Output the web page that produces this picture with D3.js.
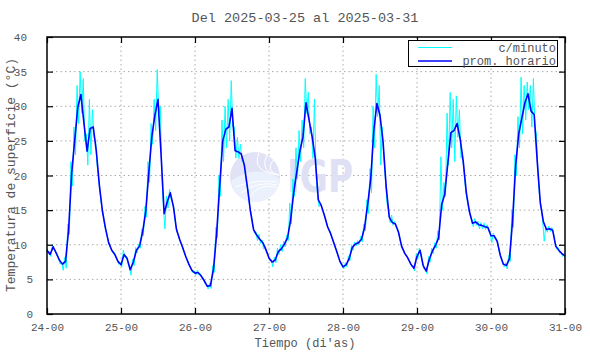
<!DOCTYPE html>
<html>
<head>
<meta charset="utf-8">
<script src="https://cdnjs.cloudflare.com/ajax/libs/d3/7.8.5/d3.min.js"></script>
<style>
  body { margin: 0; background: #fff; }
  svg { display: block; }
  text { font-family: "Liberation Mono", "DejaVu Sans Mono", monospace; fill: #555; }
</style>
</head>
<body>
<svg id="drawing_region"></svg>
<script>
// x tick labels, one per day (day-hour)
var xTickLabels = ['24-00', '25-00', '26-00', '27-00', '28-00', '29-00', '30-00', '31-00'];
var yTicks = [0, 5, 10, 15, 20, 25, 30, 35, 40];

// hourly average (prom. horario), hour 0 .. 168
var hourly = [
  9.2, 8.6, 9.7, 8.8, 7.8, 7.2, 7.6, 12.1, 20.3, 25.1, 29.9, 31.7, 27.5, 23.5, 26.8, 27.0, 23.5, 18.5, 14.8, 12.3, 10.3, 9.2, 8.6, 7.6,
  7.1, 8.6, 8.0, 6.4, 7.5, 9.2, 9.8, 11.8, 14.7, 20.3, 25.6, 28.7, 31.0, 23.0, 14.5, 16.2, 17.5, 15.5, 12.2, 10.8, 9.6, 8.3, 7.2, 6.3,
  5.9, 6.0, 5.5, 4.8, 4.0, 4.1, 6.5, 11.5, 18.4, 25.0, 26.7, 27.0, 29.7, 23.6, 23.4, 23.1, 21.5, 18.3, 14.8, 12.2, 11.4, 10.8, 10.3, 9.3,
  8.1, 7.5, 7.8, 9.0, 9.4, 10.1, 11.0, 13.5, 17.5, 20.5, 23.5, 25.5, 30.5, 28.0, 25.6, 22.5, 16.5, 15.6, 14.2, 12.6, 11.6, 10.3, 9.0, 7.6,
  6.8, 7.1, 8.0, 9.6, 10.1, 10.3, 10.8, 12.5, 15.8, 19.5, 26.5, 30.4, 28.7, 24.8, 18.4, 14.0, 13.2, 13.0, 11.8, 9.8, 8.8, 8.1, 7.2, 6.6,
  8.3, 9.2, 7.0, 6.2, 7.9, 9.1, 9.9, 11.0, 15.8, 17.3, 21.8, 26.2, 26.5, 27.5, 25.3, 22.0, 17.5, 14.8, 13.1, 13.3, 12.9, 12.8, 12.6, 12.5,
  11.3, 11.3, 10.5, 8.5, 7.2, 7.0, 8.0, 13.5, 21.5, 26.0, 28.3, 30.5, 31.8, 29.3, 28.8, 22.0, 16.0, 13.3, 12.2, 12.3, 12.1, 9.8, 9.2, 8.7,
  8.4
];

// per-minute readings (c/minuto), highest and lowest seen within each hour
var minuteHi = [
  9.5, 9.0, 10.0, 9.1, 8.1, 7.5, 8.2, 13.0, 22.0, 27.0, 33.0, 35.0, 34.0, 26.0, 31.0, 29.5, 25.0, 19.5, 15.3, 12.7, 10.6, 9.5, 8.9, 7.9,
  7.4, 9.2, 8.3, 6.7, 7.9, 9.6, 10.1, 12.3, 15.5, 22.0, 27.5, 31.0, 35.3, 30.0, 15.5, 17.0, 18.0, 16.0, 12.6, 11.2, 9.9, 8.6, 7.5, 6.6,
  6.2, 6.3, 5.8, 5.1, 4.3, 4.5, 7.0, 12.5, 20.0, 28.0, 30.0, 31.0, 33.7, 27.0, 25.5, 24.5, 22.0, 18.8, 15.3, 12.7, 11.9, 11.5, 10.7, 9.6,
  8.4, 7.8, 8.2, 9.5, 10.0, 10.5, 11.4, 16.0, 19.5, 24.0, 26.5, 28.0, 34.0, 32.0, 27.0, 31.0, 17.0, 16.0, 14.6, 13.0, 12.0, 10.7, 9.4, 7.9,
  7.1, 7.4, 8.4, 10.0, 10.4, 10.6, 11.2, 13.0, 16.5, 21.0, 30.0, 34.6, 33.0, 27.0, 19.5, 15.0, 14.3, 13.4, 12.2, 10.2, 9.1, 8.4, 7.5, 6.9,
  8.7, 9.5, 7.4, 6.5, 8.3, 9.5, 10.3, 12.0, 22.7, 19.0, 29.0, 32.0, 31.0, 31.5, 29.5, 23.0, 18.0, 15.3, 13.7, 13.8, 13.4, 13.2, 13.1, 12.9,
  11.7, 11.7, 10.9, 8.9, 7.6, 7.4, 8.5, 15.0, 23.0, 28.5, 34.2, 33.0, 33.5, 33.0, 34.0, 26.0, 17.0, 13.5, 12.6, 12.7, 12.5, 10.4, 9.6, 9.0,
  8.7
];
var minuteLo = [
  8.9, 8.3, 9.3, 8.4, 7.2, 6.3, 6.6, 11.5, 18.5, 23.0, 27.5, 29.0, 25.0, 21.5, 23.0, 25.5, 21.5, 17.5, 14.2, 11.9, 9.9, 8.9, 8.2, 7.2,
  6.8, 8.2, 7.3, 5.6, 7.0, 8.8, 9.5, 11.3, 14.0, 19.0, 24.5, 26.5, 29.0, 20.0, 12.3, 15.3, 16.5, 15.0, 11.8, 10.4, 9.2, 8.0, 6.9, 6.0,
  5.6, 5.7, 5.1, 4.4, 3.6, 3.7, 6.0, 11.0, 17.0, 22.0, 24.0, 25.0, 27.0, 22.5, 22.5, 22.0, 20.5, 17.8, 14.3, 11.7, 10.6, 10.2, 9.4, 8.9,
  7.7, 6.8, 7.4, 8.6, 9.0, 9.7, 10.6, 13.0, 17.0, 19.5, 22.0, 24.0, 29.0, 26.0, 22.5, 20.5, 15.5, 15.1, 13.8, 12.2, 11.2, 9.9, 8.6, 7.2,
  6.5, 6.8, 7.7, 9.2, 9.8, 10.0, 10.4, 12.0, 14.5, 17.5, 24.0, 28.5, 21.5, 22.5, 16.0, 13.2, 12.8, 12.5, 11.4, 9.4, 8.5, 7.8, 6.9, 6.2,
  7.9, 8.8, 6.5, 5.8, 7.5, 8.7, 9.5, 10.7, 15.0, 17.0, 21.5, 24.0, 22.0, 25.5, 22.5, 20.5, 16.5, 14.2, 12.6, 12.8, 12.3, 12.3, 12.2, 12.0,
  10.3, 10.9, 10.1, 8.1, 6.8, 6.5, 7.6, 12.5, 20.0, 24.0, 26.0, 28.0, 29.5, 27.0, 27.0, 20.0, 15.5, 10.5, 11.8, 11.9, 11.7, 9.4, 8.8, 8.3,
  8.1
];

var margin = { top: 37, right: 25, bottom: 40, left: 47 };
var width = 590 - margin.left - margin.right;
var height = 354 - margin.top - margin.bottom;

var root = d3.select('#drawing_region')
    .attr('width', 590)
    .attr('height', 354);

var svg = root.append('g')
    .attr('transform', 'translate(' + margin.left + ',' + margin.top + ')');

var xScale = d3.scaleLinear()
    .domain([0, (xTickLabels.length - 1) * 24])
    .range([0, width]);

var yScale = d3.scaleLinear()
    .domain([0, 40])
    .range([height, 0]);

var xTickVals = xTickLabels.map(function(d, i) { return i * 24; });

// grid
svg.append('g')
    .selectAll('line')
    .data(xTickVals.slice(1, -1))
    .enter()
    .append('line')
    .attr('x1', d => xScale(d)).attr('x2', d => xScale(d))
    .attr('y1', 0).attr('y2', height)
    .attr('stroke', '#aaa').attr('stroke-width', 1).attr('stroke-dasharray', '1.5,3');

svg.append('g')
    .selectAll('line')
    .data(yTicks.slice(1, -1))
    .enter()
    .append('line')
    .attr('x1', 0).attr('x2', width)
    .attr('y1', d => yScale(d)).attr('y2', d => yScale(d))
    .attr('stroke', '#aaa').attr('stroke-width', 1).attr('stroke-dasharray', '1.5,3');

// watermark logo
var logo = svg.append('g');
var cx = 255 - margin.left, cy = 177 - margin.top;
logo.append('circle').attr('cx', cx).attr('cy', cy).attr('r', 25).attr('fill', '#e2e2f6');
logo.append('path')
    .attr('d', 'M' + (cx - 24) + ',' + (cy + 4) + ' Q' + (cx + 2) + ',' + (cy - 14) + ' ' + (cx + 25) + ',' + (cy + 2)
        + ' A25,25 0 0,1 ' + (cx - 2) + ',' + (cy + 25) + ' A25,25 0 0,1 ' + (cx - 24) + ',' + (cy + 4) + 'Z')
    .attr('fill', '#eaf0fc');
[[-20, 10], [-14, 16], [-6, 21]].forEach(function(o) {
    logo.append('path')
        .attr('d', 'M' + (cx + o[0]) + ',' + (cy + o[1]) + ' Q' + (cx + 4) + ',' + (cy - 2 + o[1] / 3) + ' ' + (cx + 22) + ',' + (cy + o[1] / 2))
        .attr('fill', 'none').attr('stroke', '#fff').attr('stroke-width', 1);
});
[[4, -24], [12, -22], [18, -17]].forEach(function(o) {
    logo.append('path')
        .attr('d', 'M' + (cx + o[0]) + ',' + (cy + o[1]) + ' Q' + (cx + o[0] - 8) + ',' + (cy - 5) + ' ' + (cx + 24) + ',' + (cy - 2))
        .attr('fill', 'none').attr('stroke', '#fff').attr('stroke-width', 1);
});
logo.append('text')
    .attr('x', 287 - margin.left)
    .attr('y', 192 - margin.top)
    .attr('textLength', 66)
    .attr('lengthAdjust', 'spacingAndGlyphs')
    .style('font-family', '"DejaVu Sans", sans-serif')
    .style('font-weight', 'bold')
    .style('font-size', '44px')
    .style('fill', '#e0e0f4')
    .text('IGP');

// per-minute series: zigzag between hourly extremes
var minutePts = [];
hourly.forEach(function(d, i) {
    minutePts.push([Math.max(0, i - 0.25), minuteHi[i]]);
    minutePts.push([Math.min(168, i + 0.25), minuteLo[i]]);
});

var line = d3.line()
    .x(d => xScale(d[0]))
    .y(d => yScale(d[1]));

svg.append('path')
    .datum(minutePts)
    .attr('fill', 'none')
    .attr('stroke', '#00ffff')
    .attr('stroke-width', 1)
    .attr('d', line);

svg.append('path')
    .datum(hourly.map((d, i) => [i, d]))
    .attr('fill', 'none')
    .attr('stroke', '#0000ff')
    .attr('stroke-width', 1.6)
    .attr('stroke-linejoin', 'round')
    .attr('d', line);

// axes
var xAxis = svg.append('g')
    .attr('transform', 'translate(0,' + height + ')')
    .call(d3.axisBottom(xScale).tickValues(xTickVals).tickFormat((d, i) => xTickLabels[i]).tickSize(-6).tickPadding(9));
svg.append('g')
    .call(d3.axisTop(xScale).tickValues(xTickVals).tickFormat('').tickSize(-6));
var yAxis = svg.append('g')
    .call(d3.axisLeft(yScale).tickValues(yTicks).tickSize(-6).tickPadding(20));
svg.append('g')
    .attr('transform', 'translate(' + width + ',0)')
    .call(d3.axisRight(yScale).tickValues(yTicks).tickFormat('').tickSize(-6));

svg.selectAll('.domain').remove();
svg.selectAll('.tick line').attr('stroke', '#000').attr('stroke-width', 1.2);
xAxis.selectAll('text').style('font-size', '11px').style('font-family', '"Liberation Mono", monospace').attr('fill', '#555');
yAxis.selectAll('text').style('font-size', '11px').style('font-family', '"Liberation Mono", monospace').attr('fill', '#555')
    .attr('dx', d => d < 10 ? 6 : 0);

// frame
svg.append('rect')
    .attr('x', 0).attr('y', 0)
    .attr('width', width).attr('height', height)
    .attr('fill', 'none')
    .attr('stroke', '#000')
    .attr('stroke-width', 1.5);

// legend
var legend = root.append('g');
legend.append('rect')
    .attr('x', 408.5).attr('y', 40.5)
    .attr('width', 149).attr('height', 26)
    .attr('fill', '#fff')
    .attr('stroke', '#000')
    .attr('stroke-width', 1);
var legendItems = [
    { label: 'c/minuto', color: '#00ffff', w: 1.2 },
    { label: 'prom. horario', color: '#0000ff', w: 1.6 }
];
legendItems.forEach(function(d, i) {
    legend.append('line')
        .attr('x1', 418).attr('x2', 452)
        .attr('y1', 47.5 + i * 13.5).attr('y2', 47.5 + i * 13.5)
        .attr('stroke', d.color).attr('stroke-width', d.w);
    legend.append('text')
        .attr('x', 556).attr('y', 51.5 + i * 13.5)
        .attr('text-anchor', 'end')
        .style('font-size', '12px')
        .text(d.label);
});

// titles
root.append('text')
    .attr('x', 305)
    .attr('y', 22)
    .attr('text-anchor', 'middle')
    .style('font-size', '13.5px')
    .text('Del 2025-03-25 al 2025-03-31');

root.append('text')
    .attr('x', 305)
    .attr('y', 347)
    .attr('text-anchor', 'middle')
    .style('font-size', '12px')
    .text('Tiempo (di\'as)');

root.append('text')
    .attr('transform', 'rotate(-90)')
    .attr('x', -175)
    .attr('y', 15)
    .attr('text-anchor', 'middle')
    .style('font-size', '13px')
    .text('Temperatura de superficie (°C)');
</script>
</body>
</html>
